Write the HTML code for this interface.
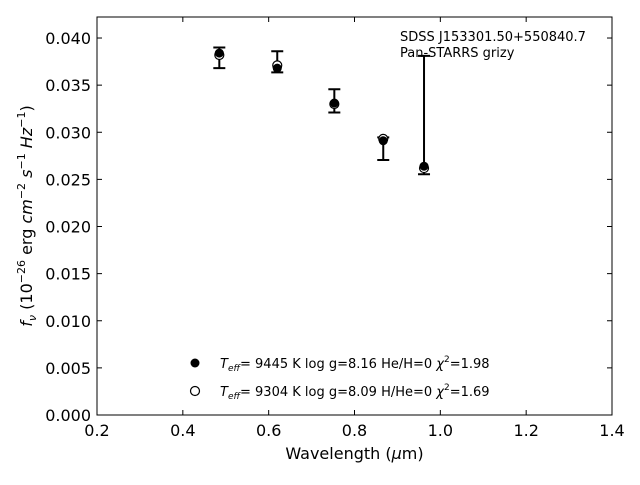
<!DOCTYPE html>
<html><head><meta charset="utf-8"><style>
body{margin:0;background:#fff;}
svg{font-family:"DejaVu Sans","Liberation Sans",sans-serif;}
</style></head><body>
<svg id="chart" width="640" height="480" xmlns="http://www.w3.org/2000/svg">
<rect x="0" y="0" width="640" height="480" fill="#fff"/>
<g id="plot"></g>
<rect x="97" y="17" width="515" height="398" fill="none" stroke="#000" stroke-width="1"/>
<text x="354.5" y="459" font-size="16" text-anchor="middle">Wavelength (<tspan font-style="italic">μ</tspan>m)</text>
<text transform="translate(32,216) rotate(-90)" font-size="16" text-anchor="middle"><tspan font-style="italic">f</tspan><tspan font-style="italic" font-size="11" dy="4">ν</tspan><tspan dy="-4"> (10</tspan><tspan font-size="11" dy="-7">−26</tspan><tspan dy="7"> erg </tspan><tspan font-style="italic">cm</tspan><tspan font-size="11" dy="-7">−2</tspan><tspan dy="7"> </tspan><tspan font-style="italic">s</tspan><tspan font-size="11" dy="-7">−1</tspan><tspan dy="7"> </tspan><tspan font-style="italic">Hz</tspan><tspan font-size="11" dy="-7">−1</tspan><tspan dy="7">)</tspan></text>
<text x="400" y="41" font-size="13">SDSS J153301.50+550840.7</text>
<text x="400" y="57" font-size="13">Pan-STARRS grizy</text>
<g font-size="13">
<circle cx="195" cy="363" r="4.5" fill="#000"/>
<text x="220" y="368"><tspan font-style="italic">T</tspan><tspan font-style="italic" font-size="9" dy="3">eff</tspan><tspan dy="-3">=  9445 K  log g=8.16  He/H=0  </tspan><tspan font-style="italic">χ</tspan><tspan font-size="9" dy="-6">2</tspan><tspan dy="6">=1.98</tspan></text>
<circle cx="195" cy="391" r="4.5" fill="#fff" stroke="#000" stroke-width="1.2"/>
<text x="220" y="396"><tspan font-style="italic">T</tspan><tspan font-style="italic" font-size="9" dy="3">eff</tspan><tspan dy="-3">=  9304 K  log g=8.09  H/He=0  </tspan><tspan font-style="italic">χ</tspan><tspan font-size="9" dy="-6">2</tspan><tspan dy="6">=1.69</tspan></text>
</g>
</svg>
<script>
const wavelengths = [0.485, 0.620, 0.753, 0.867, 0.962];
const observed = [0.0383, 0.0369, 0.0330, 0.0292, 0.02635];
const errHigh = [0.0390, 0.0386, 0.03456, 0.02946, 0.0381];
const errLow = [0.0368, 0.03636, 0.0321, 0.02706, 0.02554];
const modelHe = [0.0384, 0.0368, 0.0331, 0.0291, 0.0264];
const modelH = [0.0382, 0.0371, 0.0330, 0.0293, 0.0262];
const xTicks = [0.2, 0.4, 0.6, 0.8, 1.0, 1.2, 1.4];
const xTickLabels = ["0.2","0.4","0.6","0.8","1.0","1.2","1.4"];
const yTicks = [0, 0.005, 0.01, 0.015, 0.02, 0.025, 0.03, 0.035, 0.04];
const yTickLabels = ["0.000","0.005","0.010","0.015","0.020","0.025","0.030","0.035","0.040"];

const L=97,R=612,T=17,B=415,XMIN=0.2,XMAX=1.4,YMIN=0,YMAX=0.04223;
const sx=v=>L+(v-XMIN)/(XMAX-XMIN)*(R-L);
const sy=v=>B-(v-YMIN)/(YMAX-YMIN)*(B-T);
const NS="http://www.w3.org/2000/svg";
const g=document.getElementById('plot');
function mk(tag,attrs){const e=document.createElementNS(NS,tag);for(const k in attrs)e.setAttribute(k,attrs[k]);g.appendChild(e);return e;}

xTicks.forEach((v,i)=>{
  const x=sx(v);
  let t=mk('line',{x1:x,x2:x,y1:B,y2:B-5,stroke:'#000'});
  
  
  t=mk('line',{x1:x,x2:x,y1:T,y2:T+5,stroke:'#000'});
  
  
  const lb=mk('text',{x:x,y:B+21,'font-size':16,'text-anchor':'middle'});
  lb.textContent=xTickLabels[i];
  
  
});
yTicks.forEach((v,i)=>{
  const y=sy(v);
  let t=mk('line',{x1:L,x2:L+5,y1:y,y2:y,stroke:'#000'});
  
  
  t=mk('line',{x1:R,x2:R-5,y1:y,y2:y,stroke:'#000'});
  
  
  const lb=mk('text',{x:L-6,y:y+6,'font-size':16,'text-anchor':'end'});
  lb.textContent=yTickLabels[i];
  
  
});
wavelengths.forEach((w,i)=>{
  const x=sx(w);
  const eb=mk('path',{d:`M${x},${sy(errHigh[i])}V${sy(errLow[i])}M${x-6},${sy(errHigh[i])}H${x+6}M${x-6},${sy(errLow[i])}H${x+6}`,stroke:'#000','stroke-width':2,fill:'none'});
  
  
  const o=mk('circle',{cx:x,cy:sy(observed[i]),r:4.5,fill:'#000'});
  
  
  const b=mk('circle',{cx:x,cy:sy(modelH[i]),r:4.5,fill:'#fff',stroke:'#000','stroke-width':1.2});
  
  
  const a=mk('circle',{cx:x,cy:sy(modelHe[i]),r:4.5,fill:'#000'});
  
  
});
</script>
</body></html>
